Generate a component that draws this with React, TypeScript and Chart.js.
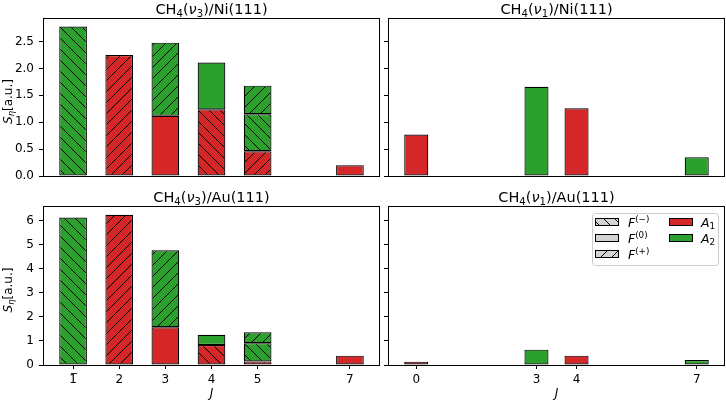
import { useEffect, useRef } from "react";
import { Chart, registerables } from "chart.js";

Chart.register(...registerables);

const W = 726;
const H = 401;
const FONT = "DejaVu Sans";
const RED = "#d62728";
const GREEN = "#2ca02c";
const YW = 40; // fixed width of the y axis box
const XH = 20; // fixed height of the x axis box

// J values of the bars
const jLeft = [1, 2, 3, 4, 5, 7];
const jLeftLabels = ["1\u0305", "2", "3", "4", "5", "7"];
const jRight = [0, 3, 4, 7];
const jRightLabels = ["0", "3", "4", "7"];

// CH4(v3)/Ni(111): segment heights per J (A1/A2 symmetry, F-/F0/F+)
const niV3A1Minus = [null, null, null, 1.24, null, null];
const niV3A1Zero = [null, null, 1.12, null, null, 0.2];
const niV3A1Plus = [null, 2.25, null, null, 0.46, null];
const niV3A2Minus = [2.78, null, null, null, 0.69, null];
const niV3A2Zero = [null, null, null, 0.87, null, null];
const niV3A2Plus = [null, null, 1.36, null, 0.53, null];

// CH4(v1)/Ni(111)
const niV1A1 = [0.77, null, 1.26, null];
const niV1A2 = [null, 1.66, null, 0.35];

// CH4(v3)/Au(111)
const auV3A1Minus = [null, null, null, 0.83, null, null];
const auV3A1Zero = [null, null, 1.57, null, null, 0.39];
const auV3A1Plus = [null, 6.26, null, null, 0.15, null];
const auV3A2Minus = [6.14, null, null, null, 0.76, null];
const auV3A2Zero = [null, null, null, 0.43, null, null];
const auV3A2Plus = [null, null, 3.21, null, 0.45, null];

// CH4(v1)/Au(111)
const auV1A1 = [0.14, null, 0.39, null];
const auV1A2 = [null, 0.64, null, 0.21];

const niTicks = [0, 0.5, 1, 1.5, 2, 2.5];
const auTicks = [0, 1, 2, 3, 4, 5, 6];
const niMax = 2.92;
const auMax = 6.58;

type Hatch = "-" | "0" | "+";
type Part = { t: string; it?: boolean; sub?: boolean; sup?: boolean };
type Seg = { data: (number | null)[]; color: string; hatch: Hatch };
type Panel = {
  title: Part[];
  xs: number[];
  xLabels: string[];
  xMin: number;
  xMax: number;
  segs: Seg[];
  yTicks: number[];
  yMax: number;
  yLabels: boolean;
  area: { left: number; top: number; right: number; bottom: number };
  bottomRow: boolean;
  legend?: boolean;
};

function makeFill(color: string, kind: Hatch): string | CanvasPattern {
  if (kind === "0") return color;
  const s = 11;
  const c = document.createElement("canvas");
  c.width = s;
  c.height = s;
  const g = c.getContext("2d")!;
  g.fillStyle = color;
  g.fillRect(0, 0, s, s);
  g.strokeStyle = "#000";
  g.lineWidth = 1;
  g.beginPath();
  if (kind === "+") {
    g.moveTo(-1, s + 1);
    g.lineTo(s + 1, -1);
    g.moveTo(-1, 1);
    g.lineTo(1, -1);
    g.moveTo(s - 1, s + 1);
    g.lineTo(s + 1, s - 1);
  } else {
    g.moveTo(-1, -1);
    g.lineTo(s + 1, s + 1);
    g.moveTo(s - 1, -1);
    g.lineTo(s + 1, 1);
    g.moveTo(-1, s - 1);
    g.lineTo(1, s + 1);
  }
  g.stroke();
  return g.createPattern(c, "repeat")!;
}

function partFont(p: Part, size: number) {
  const s = p.sub || p.sup ? size * 0.7 : size;
  return `${p.it ? "italic " : ""}${s}px "${FONT}"`;
}

function drawRich(ctx: CanvasRenderingContext2D, parts: Part[], x: number, y: number, size: number, align: "left" | "center") {
  ctx.save();
  ctx.textBaseline = "alphabetic";
  ctx.textAlign = "left";
  ctx.fillStyle = "#000";
  const widths = parts.map((p) => {
    ctx.font = partFont(p, size);
    return ctx.measureText(p.t).width;
  });
  const total = widths.reduce((a, b) => a + b, 0);
  let cx = align === "center" ? x - total / 2 : x;
  parts.forEach((p, i) => {
    ctx.font = partFont(p, size);
    const dy = p.sub ? size * 0.2 : p.sup ? -size * 0.38 : 0;
    ctx.fillText(p.t, cx, y + dy);
    cx += widths[i];
  });
  ctx.restore();
}

const yLabel: Part[] = [{ t: "S", it: true }, { t: "η", it: true, sub: true }, { t: "[a.u.]" }];

function title(mode: string, surface: string): Part[] {
  return [
    { t: "CH" },
    { t: "4", sub: true },
    { t: "(" },
    { t: "ν", it: true },
    { t: mode, sub: true },
    { t: `)/${surface}(111)` },
  ];
}

const legendF: { label: Part[]; hatch: Hatch }[] = [
  { label: [{ t: "F", it: true }, { t: "(−)", sup: true }], hatch: "-" },
  { label: [{ t: "F", it: true }, { t: "(0)", sup: true }], hatch: "0" },
  { label: [{ t: "F", it: true }, { t: "(+)", sup: true }], hatch: "+" },
];
const legendA: { label: Part[]; color: string }[] = [
  { label: [{ t: "A", it: true }, { t: "1", sub: true }], color: RED },
  { label: [{ t: "A", it: true }, { t: "2", sub: true }], color: GREEN },
];

const panels: Panel[] = [
  {
    title: title("3", "Ni"),
    xs: jLeft,
    xLabels: jLeftLabels,
    xMin: 0.37,
    xMax: 7.63,
    segs: [
      { data: niV3A1Minus, color: RED, hatch: "-" },
      { data: niV3A1Zero, color: RED, hatch: "0" },
      { data: niV3A1Plus, color: RED, hatch: "+" },
      { data: niV3A2Minus, color: GREEN, hatch: "-" },
      { data: niV3A2Zero, color: GREEN, hatch: "0" },
      { data: niV3A2Plus, color: GREEN, hatch: "+" },
    ],
    yTicks: niTicks,
    yMax: niMax,
    yLabels: true,
    area: { left: 44, top: 19, right: 379, bottom: 176 },
    bottomRow: false,
  },
  {
    title: title("1", "Ni"),
    xs: jRight,
    xLabels: jRightLabels,
    xMin: -0.68,
    xMax: 7.68,
    segs: [
      { data: niV1A1, color: RED, hatch: "0" },
      { data: niV1A2, color: GREEN, hatch: "0" },
    ],
    yTicks: niTicks,
    yMax: niMax,
    yLabels: false,
    area: { left: 389, top: 19, right: 724, bottom: 176 },
    bottomRow: false,
  },
  {
    title: title("3", "Au"),
    xs: jLeft,
    xLabels: jLeftLabels,
    xMin: 0.37,
    xMax: 7.63,
    segs: [
      { data: auV3A1Minus, color: RED, hatch: "-" },
      { data: auV3A1Zero, color: RED, hatch: "0" },
      { data: auV3A1Plus, color: RED, hatch: "+" },
      { data: auV3A2Minus, color: GREEN, hatch: "-" },
      { data: auV3A2Zero, color: GREEN, hatch: "0" },
      { data: auV3A2Plus, color: GREEN, hatch: "+" },
    ],
    yTicks: auTicks,
    yMax: auMax,
    yLabels: true,
    area: { left: 44, top: 207, right: 379, bottom: 365 },
    bottomRow: true,
  },
  {
    title: title("1", "Au"),
    xs: jRight,
    xLabels: jRightLabels,
    xMin: -0.68,
    xMax: 7.68,
    segs: [
      { data: auV1A1, color: RED, hatch: "0" },
      { data: auV1A2, color: GREEN, hatch: "0" },
    ],
    yTicks: auTicks,
    yMax: auMax,
    yLabels: false,
    area: { left: 389, top: 207, right: 724, bottom: 365 },
    bottomRow: true,
    legend: true,
  },
];

function drawLegend(ctx: CanvasRenderingContext2D) {
  ctx.save();
  ctx.beginPath();
  ctx.roundRect(592.5, 213.5, 126, 52, 3);
  ctx.fillStyle = "rgba(255,255,255,0.8)";
  ctx.fill();
  ctx.strokeStyle = "#cccccc";
  ctx.lineWidth = 1;
  ctx.stroke();
  const rows = [222, 238, 254];
  legendF.forEach((e, i) => {
    const y = rows[i];
    ctx.fillStyle = makeFill("#d3d3d3", e.hatch);
    ctx.fillRect(595, y - 4, 24, 8);
    ctx.strokeStyle = "#000";
    ctx.strokeRect(595.5, y - 3.5, 23, 7);
    drawRich(ctx, e.label, 628, y + 4.5, 12.5, "left");
  });
  legendA.forEach((e, i) => {
    const y = rows[i];
    ctx.fillStyle = e.color;
    ctx.fillRect(669, y - 4, 24, 8);
    ctx.strokeStyle = "#000";
    ctx.strokeRect(669.5, y - 3.5, 23, 7);
    drawRich(ctx, e.label, 701, y + 4.5, 12.5, "left");
  });
  ctx.restore();
}

function buildConfig(p: Panel): any {
  const { left, top, right, bottom } = p.area;
  const datasets = p.segs.map((s) => ({
    data: p.xs.map((x, i) => ({ x, y: s.data[i] })),
    backgroundColor: makeFill(s.color, s.hatch),
    borderColor: "#000",
    borderWidth: 1.2,
    borderSkipped: false,
    categoryPercentage: 1,
    barPercentage: 0.6,
  }));
  const tickFont = { family: FONT, size: 12 };
  return {
    type: "bar",
    data: { datasets },
    options: {
      animation: false,
      responsive: false,
      events: [],
      layout: {
        padding: {
          left: left - YW,
          right: W - right,
          top,
          bottom: H - bottom - (p.bottomRow ? XH : 0),
        },
      },
      plugins: { legend: { display: false }, tooltip: { enabled: false }, title: { display: false } },
      scales: {
        x: {
          type: "linear",
          stacked: true,
          offset: false,
          min: p.xMin,
          max: p.xMax,
          display: p.bottomRow,
          afterBuildTicks: (s: any) => {
            s.ticks = p.xs.map((v) => ({ value: v }));
          },
          afterFit: (s: any) => {
            s.height = p.bottomRow ? XH : 0;
          },
          ticks: {
            autoSkip: false,
            maxRotation: 0,
            padding: 4,
            color: "#000",
            font: tickFont,
            callback: (_v: number, i: number) => p.xLabels[i],
          },
          grid: { display: true, offset: false, drawOnChartArea: false, drawTicks: true, tickLength: 4, color: "#000" },
          border: { display: false },
        },
        y: {
          type: "linear",
          stacked: true,
          min: 0,
          max: p.yMax,
          afterBuildTicks: (s: any) => {
            s.ticks = p.yTicks.map((v) => ({ value: v }));
          },
          afterFit: (s: any) => {
            s.width = YW;
          },
          ticks: {
            autoSkip: false,
            padding: 5,
            color: "#000",
            font: tickFont,
            callback: (v: number) => (p.yLabels ? (p.yMax < 4 ? v.toFixed(1) : String(v)) : " "),
          },
          grid: { display: true, drawOnChartArea: false, drawTicks: true, tickLength: 5, color: "#000" },
          border: { display: false },
        },
      },
    },
    plugins: [
      {
        id: "decor",
        afterDatasetsDraw(chart: Chart) {
          const ctx = chart.ctx;
          ctx.save();
          ctx.strokeStyle = "#000";
          ctx.lineWidth = 1;
          ctx.strokeRect(left - 0.5, top - 0.5, right - left + 1, bottom - top + 1);
          ctx.restore();
          const cx = (left + right) / 2;
          drawRich(ctx, p.title, cx, top - 5, 14.5, "center");
          if (p.yLabels) {
            ctx.save();
            ctx.translate(12, (top + bottom) / 2 + 4);
            ctx.rotate(-Math.PI / 2);
            drawRich(ctx, yLabel, 0, 0, 12, "center");
            ctx.restore();
          }
          if (p.bottomRow) {
            drawRich(ctx, [{ t: "J", it: true }], cx, 397, 12, "center");
          }
          if (p.legend) drawLegend(ctx);
        },
      },
    ],
  };
}

function PanelChart({ panel }: { panel: Panel }) {
  const ref = useRef<HTMLCanvasElement>(null);
  const chartRef = useRef<Chart | null>(null);

  useEffect(() => {
    if (!ref.current) return;
    if (chartRef.current) chartRef.current.destroy();
    chartRef.current = new Chart(ref.current, buildConfig(panel));
    return () => {
      if (chartRef.current) {
        chartRef.current.destroy();
        chartRef.current = null;
      }
    };
  }, [panel]);

  return (
    <canvas
      ref={ref}
      width={W}
      height={H}
      style={{ position: "absolute", left: 0, top: 0, width: W, height: H }}
    />
  );
}

export default function App() {
  return (
    <div style={{ position: "absolute", left: 0, top: 0, width: W, height: H, background: "#fff" }}>
      {panels.map((p, i) => (
        <PanelChart key={i} panel={p} />
      ))}
    </div>
  );
}
